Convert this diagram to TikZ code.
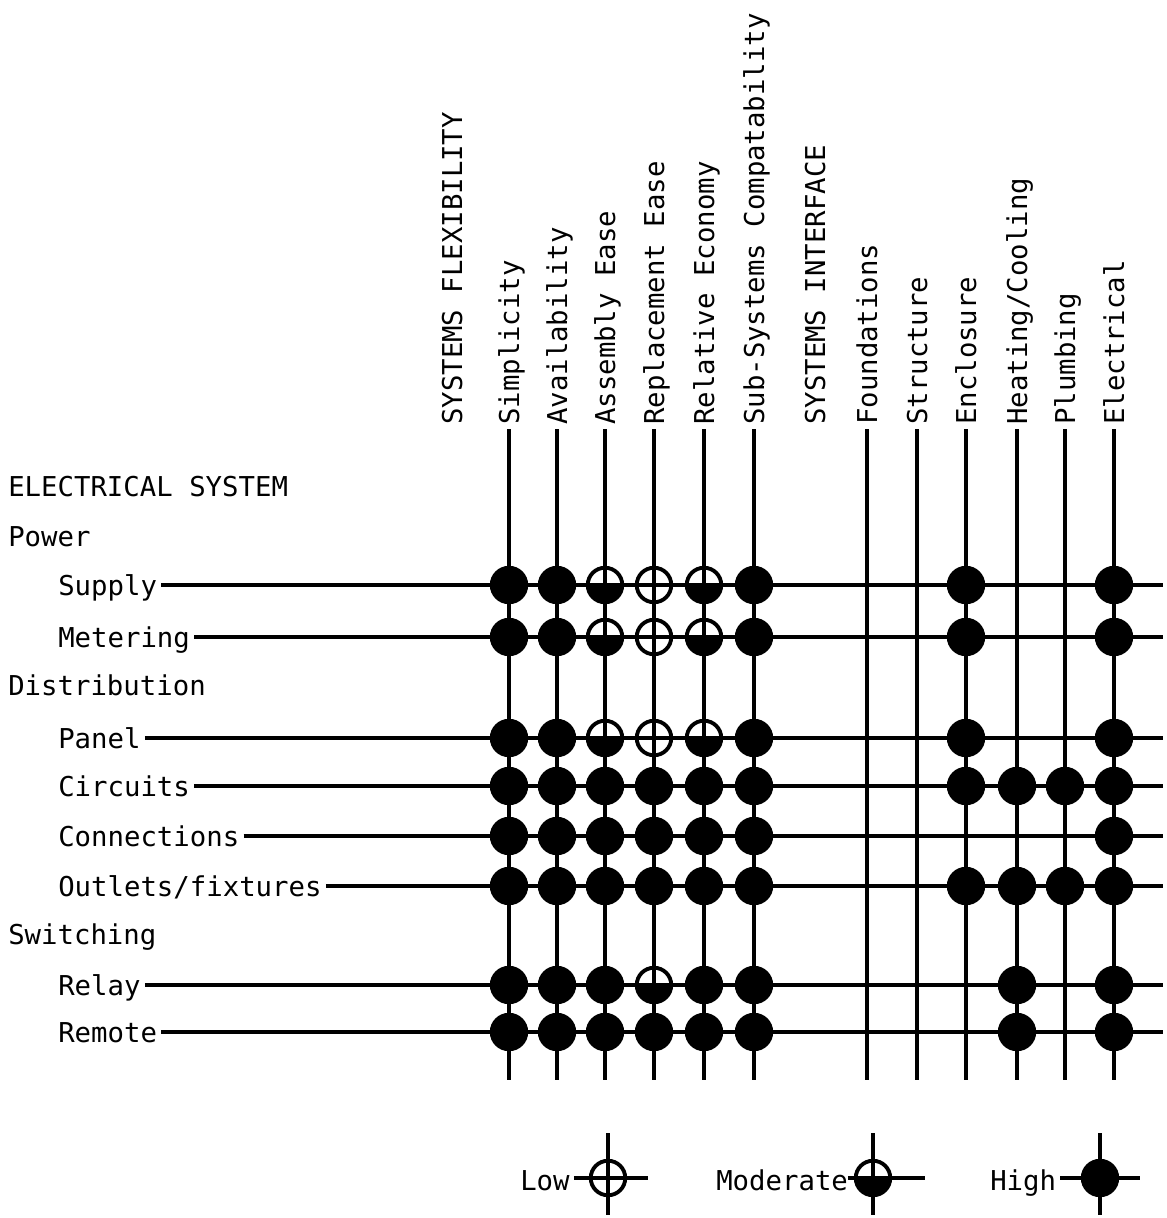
\documentclass[tikz,border=0pt]{standalone}
\usepackage{fontspec}
\setmainfont{DejaVu Sans Mono}
\begin{document}
\begin{tikzpicture}[x=0.75pt,y=-0.75pt,
  lbl/.style={font=\fontsize{20.5pt}{24pt}\selectfont, inner sep=0pt},
  gridline/.style={line width=2.3pt},
  hi/.style={circle, fill=black, minimum size=28.8pt, inner sep=0pt},
  lo/.style={circle, draw=black, line width=2.9pt, minimum size=25.9pt, inner sep=0pt},
  mo/.style={lo, path picture={\fill[black] (path picture bounding box.west) rectangle (path picture bounding box.south east);}}]
\useasboundingbox (0,0) rectangle (1167,1218);

% column headers and vertical lines
\foreach \cx/\ct [count=\i] in {509/Simplicity, 557/Availability, 605/{Assembly Ease}, 654/{Replacement Ease}, 704/{Relative Economy}, 754/{Sub-Systems Compatability}, 867/Foundations, 917/Structure, 966/Enclosure, 1017/{Heating/Cooling}, 1065/Plumbing, 1114/Electrical}{
  \node[lbl, rotate=90, anchor=base west] (h-\i) at (\cx+10,425) {\ct};
  \coordinate (b-\i) at (\cx,1080);
  \draw[gridline, shorten <=3pt] (h-\i.west -| b-\i) -- (b-\i);
}
\node[lbl, rotate=90, anchor=base west] (hflex) at (462,425) {SYSTEMS FLEXIBILITY};
\node[lbl, rotate=90, anchor=base west] (hintf) at (825,425) {SYSTEMS INTERFACE};

% group labels
\node[lbl, anchor=base west] (gelec) at (8,496) {ELECTRICAL SYSTEM};
\node[lbl, anchor=base west] (gpower) at (8,546) {Power};
\node[lbl, anchor=base west] (gdist) at (8,695) {Distribution};
\node[lbl, anchor=base west] (gswitch) at (8,944) {Switching};

% row labels and horizontal lines
\foreach \ry/\rn/\rt in {585/supply/Supply, 637/meter/Metering, 738/panel/Panel, 786/circ/Circuits, 836/conn/Connections, 886/outl/{Outlets/fixtures}, 985/relay/Relay, 1032/remote/Remote}{
  \node[lbl, anchor=base west] (r-\rn) at (58,\ry+10) {\rt};
  \coordinate (e-\rn) at (1163,\ry);
  \draw[gridline, shorten <=3pt] (r-\rn.east |- e-\rn) -- (e-\rn);
}

% marks
\def\nomark{no}
\foreach \rn/\row in {
  supply/{hi,hi,mo,lo,mo,hi,no,no,hi,no,no,hi},
  meter/{hi,hi,mo,lo,mo,hi,no,no,hi,no,no,hi},
  panel/{hi,hi,mo,lo,mo,hi,no,no,hi,no,no,hi},
  circ/{hi,hi,hi,hi,hi,hi,no,no,hi,hi,hi,hi},
  conn/{hi,hi,hi,hi,hi,hi,no,no,no,no,no,hi},
  outl/{hi,hi,hi,hi,hi,hi,no,no,hi,hi,hi,hi},
  relay/{hi,hi,hi,mo,hi,hi,no,no,no,hi,no,hi},
  remote/{hi,hi,hi,hi,hi,hi,no,no,no,hi,no,hi}}{
  \foreach \k [count=\i] in \row {
    \ifx\k\nomark\else
      \node[\k] (s-\rn-\i) at (b-\i |- e-\rn) {};
    \fi
  }
}

% legend
\node[lbl, anchor=base west] (lowt) at (520,1190) {Low};
\coordinate (lowr) at (648,1178);
\coordinate (lowtop) at (608,1133);
\coordinate (lowbot) at (608,1215);
\draw[gridline, shorten <=3pt] (lowt.east |- lowr) -- (lowr);
\draw[gridline] (lowtop) -- (lowbot);
\node[lo] (lows) at (lowtop |- lowr) {};

\node[lbl, anchor=base west] (modt) at (716,1190) {Moderate};
\coordinate (modr) at (925,1178);
\coordinate (modtop) at (873,1133);
\coordinate (modbot) at (873,1215);
\draw[gridline] (modt.east |- modr) -- (modr);
\draw[gridline] (modtop) -- (modbot);
\node[mo] (mods) at (modtop |- modr) {};

\node[lbl, anchor=base west] (hight) at (990,1190) {High};
\coordinate (highr) at (1140,1178);
\coordinate (hightop) at (1100,1133);
\coordinate (highbot) at (1100,1215);
\draw[gridline, shorten <=3pt] (hight.east |- highr) -- (highr);
\draw[gridline] (hightop) -- (highbot);
\node[hi] (highs) at (hightop |- highr) {};
\end{tikzpicture}
\end{document}
